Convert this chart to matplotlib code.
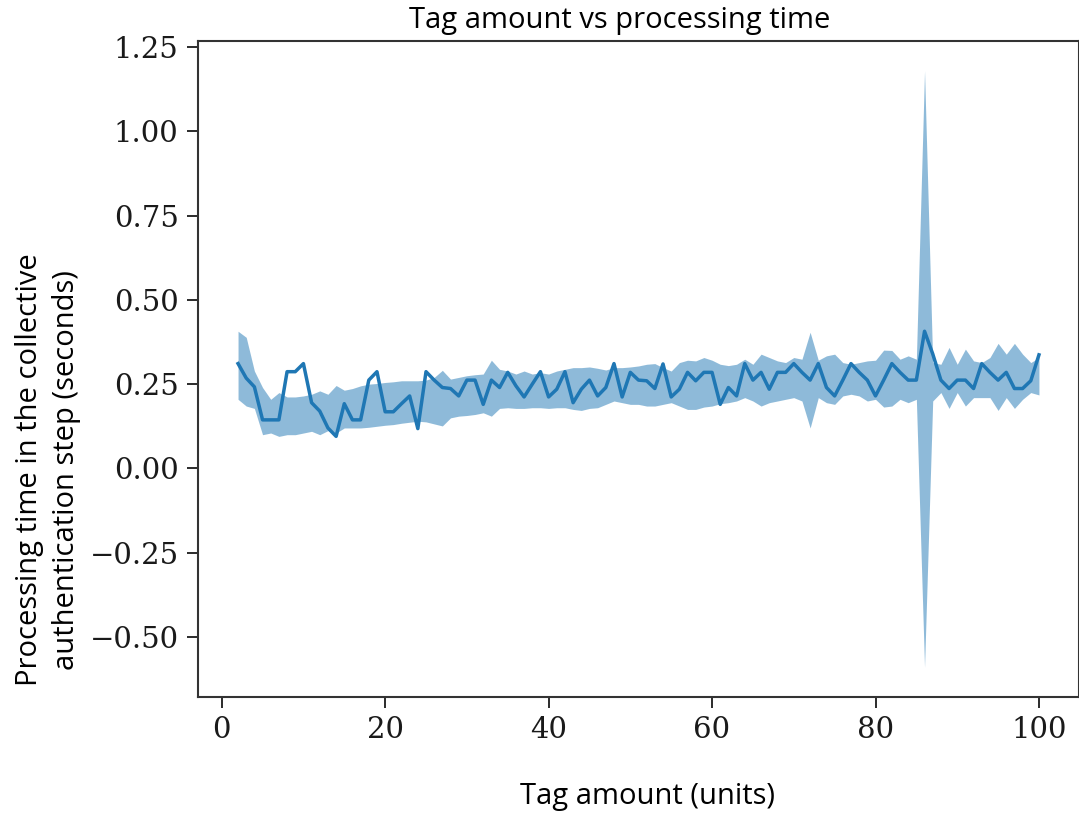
import matplotlib
matplotlib.use("Agg")
import matplotlib.pyplot as plt
import numpy as np

# tag amounts 2..100
tags = list(range(2, 101))

# mean processing time (s)
mean_time = [
    0.311, 0.268, 0.242, 0.144, 0.144, 0.144, 0.287, 0.287, 0.311, 0.195,
    0.170, 0.120, 0.095, 0.192, 0.144, 0.144, 0.262, 0.287, 0.168, 0.168,
    0.192, 0.215, 0.118, 0.287, 0.262, 0.240, 0.237, 0.215, 0.262, 0.262,
    0.190, 0.262, 0.240, 0.285, 0.245, 0.212, 0.250, 0.287, 0.212, 0.235,
    0.287, 0.195, 0.235, 0.262, 0.215, 0.240, 0.311, 0.212, 0.285, 0.262,
    0.260, 0.237, 0.310, 0.212, 0.235, 0.285, 0.260, 0.285, 0.285, 0.190,
    0.240, 0.215, 0.311, 0.262, 0.285, 0.235, 0.285, 0.285, 0.311, 0.285,
    0.262, 0.311, 0.240, 0.215, 0.262, 0.311, 0.285, 0.262, 0.215, 0.262,
    0.311, 0.285, 0.262, 0.262, 0.407, 0.340, 0.262, 0.237, 0.262, 0.262,
    0.237, 0.311, 0.285, 0.262, 0.285, 0.237, 0.237, 0.260, 0.337,
]

# upper edge of the shaded band
upper = [
    0.407, 0.389, 0.289, 0.240, 0.205, 0.225, 0.212, 0.212, 0.215, 0.220,
    0.230, 0.220, 0.246, 0.232, 0.237, 0.245, 0.250, 0.252, 0.255, 0.257,
    0.260, 0.260, 0.260, 0.262, 0.270, 0.291, 0.265, 0.270, 0.275, 0.278,
    0.280, 0.321, 0.294, 0.289, 0.280, 0.289, 0.280, 0.284, 0.280, 0.289,
    0.294, 0.299, 0.299, 0.301, 0.297, 0.292, 0.299, 0.299, 0.301, 0.304,
    0.309, 0.311, 0.299, 0.289, 0.314, 0.321, 0.319, 0.329, 0.321, 0.309,
    0.305, 0.309, 0.324, 0.309, 0.339, 0.329, 0.319, 0.314, 0.329, 0.324,
    0.404, 0.321, 0.334, 0.339, 0.314, 0.309, 0.314, 0.319, 0.321, 0.351,
    0.350, 0.324, 0.334, 0.324, 1.180, 0.314, 0.309, 0.359, 0.309, 0.354,
    0.319, 0.314, 0.329, 0.371, 0.339, 0.371, 0.339, 0.314, 0.329,
]

# lower edge of the shaded band
lower = [
    0.205, 0.185, 0.178, 0.100, 0.105, 0.095, 0.100, 0.100, 0.105, 0.110,
    0.100, 0.112, 0.105, 0.120, 0.120, 0.120, 0.122, 0.125, 0.128, 0.130,
    0.134, 0.137, 0.140, 0.138, 0.132, 0.126, 0.150, 0.155, 0.157, 0.160,
    0.165, 0.155, 0.178, 0.180, 0.178, 0.178, 0.180, 0.180, 0.178, 0.180,
    0.180, 0.175, 0.172, 0.178, 0.180, 0.190, 0.200, 0.195, 0.190, 0.190,
    0.185, 0.185, 0.190, 0.195, 0.185, 0.175, 0.175, 0.182, 0.185, 0.192,
    0.195, 0.200, 0.210, 0.200, 0.185, 0.195, 0.200, 0.205, 0.210, 0.200,
    0.120, 0.210, 0.195, 0.190, 0.215, 0.220, 0.215, 0.200, 0.205, 0.182,
    0.185, 0.205, 0.195, 0.205, -0.590, 0.200, 0.225, 0.178, 0.225, 0.185,
    0.210, 0.210, 0.210, 0.172, 0.210, 0.178, 0.205, 0.225, 0.218,
]

blue = "#1f77b4"

fig = plt.figure(figsize=(10.79, 8.14), dpi=100)
ax = fig.add_axes([0.1835, 0.1437, 0.8165, 0.806])

ax.fill_between(tags, lower, upper, color=blue, alpha=0.5, linewidth=0)
ax.plot(tags, mean_time, color=blue, linewidth=2.5)

ax.set_yticks([-0.5, -0.25, 0.0, 0.25, 0.5, 0.75, 1.0, 1.25])
ax.set_xticks([0, 20, 40, 60, 80, 100])
ax.tick_params(labelsize=21, length=8, width=1.3, pad=6, colors="#1a1a1a")
for lab in ax.get_xticklabels() + ax.get_yticklabels():
    lab.set_fontfamily("DejaVu Serif")
for sp in ax.spines.values():
    sp.set_linewidth(1.5)
    sp.set_color("#333333")

# titles placed by hand, like in the source picture
fig.text(0.574, 0.975, "Tag amount vs processing time", ha="center", va="center",
         fontsize=21, family="Open Sans")
fig.text(0.600, 0.021, "Tag amount (units)", ha="center", va="center",
         fontsize=21, family="Open Sans")
fig.text(0.0445, 0.4226, "Processing time in the collective\nauthentication step (seconds)",
         ha="center", va="center", rotation=90, fontsize=21, family="Open Sans",
         linespacing=1.4)

fig.savefig("out.png", dpi=100)
